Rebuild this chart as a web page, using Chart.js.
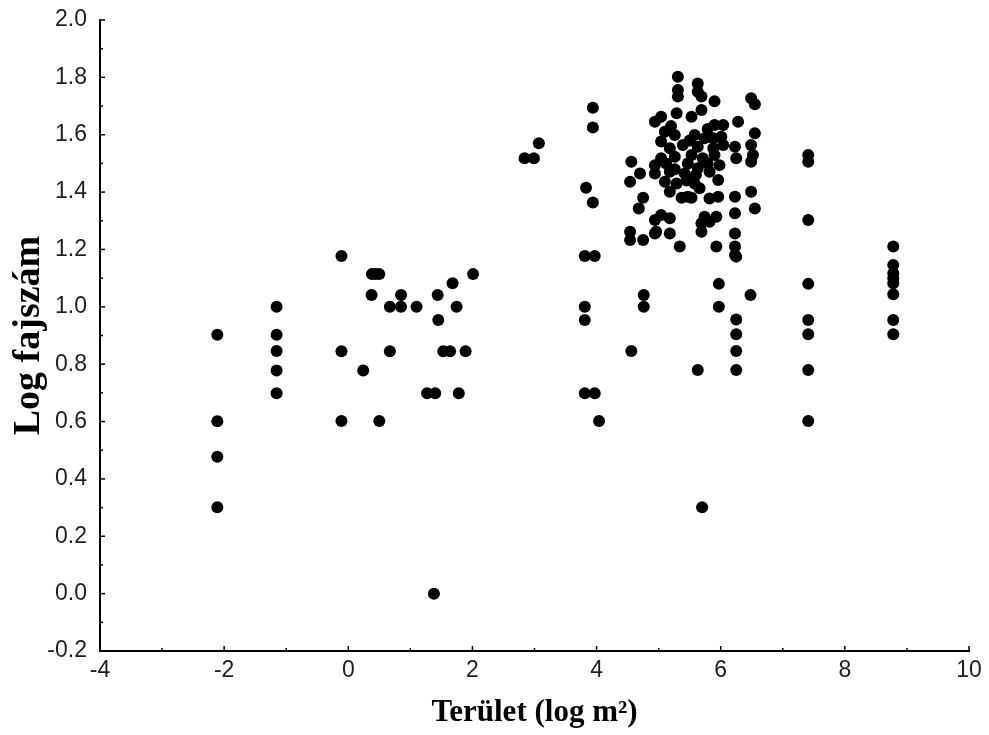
<!DOCTYPE html>
<html>
<head>
<meta charset="utf-8">
<script src="https://cdn.jsdelivr.net/npm/chart.js@4.4.1/dist/chart.umd.min.js"></script>
<style>
html,body{margin:0;padding:0;background:#fff;}
#wrap{width:989px;height:735px;}
</style>
</head>
<body>
<div id="wrap"><canvas id="c" width="989" height="735"></canvas></div>
<script>
// ---- tick labels ----
const xTickLabels = [-4, -2, 0, 2, 4, 6, 8, 10];
const yTickLabels = [-0.2, 0.0, 0.2, 0.4, 0.6, 0.8, 1.0, 1.2, 1.4, 1.6, 1.8, 2.0];

// ---- data: Terület (log m2) vs Log fajszám ----
const smallX = [-2.11, -2.11, -2.11, -2.11, -1.155, -1.155, -1.155, -1.155, -1.155, -0.11, -0.11, -0.11];
const smallY = [0.903, 0.601, 0.477, 0.301, 1.0, 0.903, 0.846, 0.778, 0.699, 1.177, 0.845, 0.602];

const midX = [0.38, 0.44, 0.50, 2.01, 1.68, 0.375, 0.85, 1.44, 0.67, 0.85, 1.10, 1.745, 1.45,
              0.67, 1.53, 1.64, 1.89, 0.24, 1.27, 1.40, 1.78, 0.50, 1.38];
const midY = [1.114, 1.114, 1.114, 1.114, 1.082, 1.041, 1.041, 1.041, 1.0, 1.0, 1.0, 1.0, 0.954,
              0.845, 0.845, 0.845, 0.845, 0.778, 0.699, 0.699, 0.699, 0.602, 0.0];

const edgeX = [2.84, 2.99, 3.07, 3.94, 3.94, 3.83, 3.94, 3.81, 3.97, 3.81, 3.81, 3.81, 3.97, 4.04];
const edgeY = [1.518, 1.518, 1.570, 1.694, 1.625, 1.415, 1.364, 1.177, 1.177, 1.0, 0.954, 0.699, 0.699, 0.602];

const clusterX = [4.56, 4.70, 4.54, 4.94, 4.94, 4.94, 4.75, 4.68, 4.94, 4.94, 4.54, 4.54, 4.75, 4.56, 4.76, 4.76,
  5.31, 5.31, 5.31, 5.63, 5.63, 5.69, 5.90, 6.49, 6.55,
  5.04, 5.29, 5.69, 5.53, 6.28, 5.90, 6.04, 6.55,
  5.10, 5.26, 5.58, 5.74, 5.88, 6.01,
  5.04, 5.18, 5.39, 5.63, 5.88, 6.04, 6.23, 6.49, 6.52,
  5.04, 5.26, 5.53, 5.71, 5.90, 5.98, 6.25, 6.49,
  5.18, 5.42, 5.63, 5.82,
  5.10, 5.29, 5.58, 5.96,
  5.18, 5.47, 5.66, 6.23, 6.49, 5.82, 5.96, 5.37, 5.53,
  6.55, 6.23, 5.04, 5.18, 5.74, 5.93, 5.69, 5.82,
  4.96, 5.18, 5.69, 6.23,
  5.34, 5.93, 6.23, 6.23,
  5.26, 5.47, 5.79, 5.50, 5.20, 5.79, 5.45, 5.60, 5.12,
  5.97, 6.48, 5.97, 6.25, 6.25, 6.25, 6.25, 5.63, 6.25, 5.70];
const clusterY = [1.506, 1.465, 1.436, 1.645, 1.494, 1.465, 1.380, 1.343, 1.303, 1.256, 1.262, 1.233, 1.233, 0.846, 1.041, 1.0,
  1.802, 1.756, 1.733, 1.779, 1.750, 1.733, 1.717, 1.727, 1.706,
  1.663, 1.675, 1.686, 1.663, 1.645, 1.634, 1.634, 1.605,
  1.610, 1.599, 1.599, 1.588, 1.588, 1.593,
  1.576, 1.553, 1.564, 1.558, 1.553, 1.564, 1.558, 1.564, 1.529,
  1.518, 1.523, 1.529, 1.518, 1.529, 1.494, 1.518, 1.506,
  1.471, 1.465, 1.483, 1.471,
  1.436, 1.430, 1.430, 1.442,
  1.401, 1.384, 1.413, 1.384, 1.401, 1.378, 1.384, 1.380, 1.380,
  1.343, 1.326, 1.320, 1.309, 1.314, 1.314, 1.291, 1.297,
  1.262, 1.256, 1.262, 1.256,
  1.210, 1.210, 1.210, 1.181,
  1.480, 1.500, 1.500, 1.580, 1.630, 1.620, 1.440, 1.460, 1.500,
  1.080, 1.041, 1.0, 0.956, 0.904, 0.846, 0.780, 0.780, 1.175, 0.301];

const largeX = [7.41, 7.41, 7.41, 7.41, 7.41, 7.41, 7.41, 7.41,
                8.78, 8.78, 8.78, 8.78, 8.78, 8.78, 8.78, 8.78];
const largeY = [1.529, 1.506, 1.303, 1.080, 0.954, 0.904, 0.780, 0.602,
                1.210, 1.146, 1.117, 1.100, 1.082, 1.044, 0.954, 0.904];

const allX = [].concat(smallX, midX, edgeX, clusterX, largeX);
const allY = [].concat(smallY, midY, edgeY, clusterY, largeY);
const points = allX.map((x, i) => ({x: x, y: allY[i]}));

const innerTicks = {
  id: 'innerTicks',
  afterDraw(chart) {
    const {ctx, scales: {x, y}} = chart;
    ctx.save();
    ctx.strokeStyle = '#000';
    ctx.lineWidth = 1.5;
    const xb = y.bottom, yl = x.left;
    for (let v = x.min; v <= x.max; v += 1) {
      const px = x.getPixelForValue(v);
      const len = (v % 2 === 0) ? 5 : 3;
      ctx.beginPath(); ctx.moveTo(px, xb); ctx.lineTo(px, xb - len); ctx.stroke();
    }
    for (let i = -2; i <= 20; i++) {
      const py = y.getPixelForValue(i / 10);
      const len = (i % 2 === 0) ? 5 : 3;
      ctx.beginPath(); ctx.moveTo(yl, py); ctx.lineTo(yl + len, py); ctx.stroke();
    }
    ctx.restore();
  }
};

new Chart(document.getElementById('c'), {
  type: 'scatter',
  data: {
    datasets: [{
      data: points,
      backgroundColor: '#000',
      borderColor: '#000',
      borderWidth: 0,
      pointRadius: 6,
      pointHoverRadius: 6
    }]
  },
  options: {
    responsive: false,
    devicePixelRatio: 1,
    animation: false,
    events: [],
    layout: {padding: {left: 0, top: 20, right: 20, bottom: 0}},
    plugins: {legend: {display: false}, tooltip: {enabled: false}},
    scales: {
      x: {
        type: 'linear', min: -4, max: 10,
        afterBuildTicks: s => { s.ticks = xTickLabels.map(v => ({value: v})); },
        afterFit: s => { s.height = 84; s.paddingLeft = 0; s.paddingRight = 0; },
        grid: {display: false, drawTicks: false},
        border: {display: true, color: '#000', width: 2},
        ticks: {
          padding: 6, color: '#1e1e1e', maxRotation: 0,
          font: {family: "'Liberation Sans', Arial, sans-serif", size: 23},
          callback: v => String(v)
        },
        title: {
          display: true, text: 'Terület (log m²)', color: '#000',
          font: {family: "'Liberation Serif', 'Times New Roman', serif", size: 31, weight: 'bold'},
          padding: {top: 0, bottom: 3}
        }
      },
      y: {
        type: 'linear', min: -0.2, max: 2.0,
        afterBuildTicks: s => { s.ticks = yTickLabels.map(v => ({value: v})); },
        afterFit: s => { s.width = 100; s.paddingTop = 0; s.paddingBottom = 0; },
        grid: {display: false, drawTicks: false},
        border: {display: true, color: '#000', width: 2},
        ticks: {
          padding: 13, color: '#1e1e1e',
          font: {family: "'Liberation Sans', Arial, sans-serif", size: 23},
          callback: v => Number(v).toFixed(1)
        },
        title: {
          display: true, text: 'Log fajszám', color: '#000',
          font: {family: "'Liberation Serif', 'Times New Roman', serif", size: 38, weight: 'bold'},
          padding: {top: 6, bottom: 0}
        }
      }
    }
  },
  plugins: [innerTicks]
});
</script>
</body>
</html>
